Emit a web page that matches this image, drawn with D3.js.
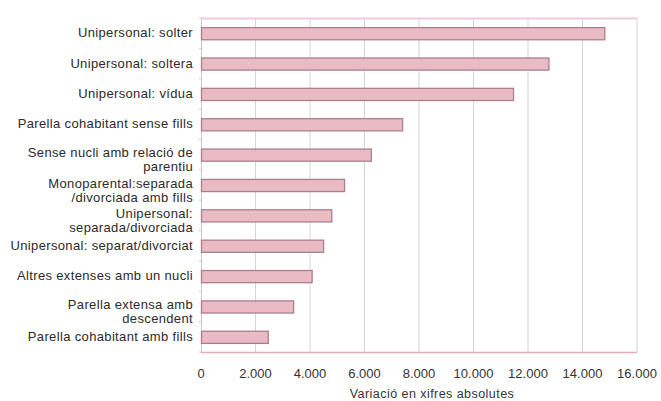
<!DOCTYPE html>
<html><head><meta charset="utf-8">
<script src="https://cdn.jsdelivr.net/npm/d3@7"></script>
<style>body{margin:0;background:#fff}svg{display:block}text{font-family:"Liberation Sans",Arial,sans-serif}</style>
</head><body>
<svg id="c" width="661" height="401"></svg>
<script>
const categories = [
  ["Unipersonal: solter"],
  ["Unipersonal: soltera"],
  ["Unipersonal: vídua"],
  ["Parella cohabitant sense fills"],
  ["Sense nucli amb relació de", "parentiu"],
  ["Monoparental:separada", "/divorciada amb fills"],
  ["Unipersonal:", "separada/divorciada"],
  ["Unipersonal: separat/divorciat"],
  ["Altres extenses amb un nucli"],
  ["Parella extensa amb", "descendent"],
  ["Parella cohabitant amb fills"]
];
const values = [14800, 12750, 11450, 7380, 6230, 5250, 4780, 4480, 4060, 3380, 2450];
const tickValues = [0, 2000, 4000, 6000, 8000, 10000, 12000, 14000, 16000];
const tickLabels = ["0", "2.000", "4.000", "6.000", "8.000", "10.000", "12.000", "14.000", "16.000"];
const axisTitle = "Variació en xifres absolutes";

const svg = d3.select("#c");
const L = 201, R = 637, T = 18, B = 352;
const x = d3.scaleLinear().domain([0, 16000]).range([L, R]);
const y = d3.scaleBand().domain(d3.range(categories.length)).range([T, B]).paddingInner(0.6).paddingOuter(0.3);

// gridlines
svg.append("g").selectAll("line").data(tickValues.slice(1)).join("line")
  .attr("x1", d => x(d)).attr("x2", d => x(d)).attr("y1", T).attr("y2", B)
  .attr("stroke", "#d9d2d4").attr("stroke-width", 1);
// top border
svg.append("line").attr("x1", L).attr("x2", R).attr("y1", T + 0.5).attr("y2", T + 0.5)
  .attr("stroke", "#efcdd5").attr("stroke-width", 2);
// left axis
svg.append("line").attr("x1", L + 0.5).attr("x2", L + 0.5).attr("y1", T).attr("y2", B)
  .attr("stroke", "#cfc8ca");
const bandStep = (B - T) / categories.length;
svg.append("g").selectAll("line").data(d3.range(categories.length + 1)).join("line")
  .attr("x1", L - 2).attr("x2", L + 1).attr("y1", i => T + i * bandStep).attr("y2", i => T + i * bandStep)
  .attr("stroke", "#cfc8ca");

// bars
svg.append("g").selectAll("rect").data(values).join("rect")
  .attr("x", x(0) + 0.5).attr("y", (d, i) => y(i) + 0.5)
  .attr("width", d => x(d) - x(0)).attr("height", y.bandwidth())
  .attr("fill", "#e9bcc5").attr("stroke", "#ad7e8a").attr("stroke-width", 1.3);

// bottom axis line
svg.append("line").attr("x1", L).attr("x2", R).attr("y1", B + 0.5).attr("y2", B + 0.5)
  .attr("stroke", "#e3aab8").attr("stroke-width", 1.5);

// category labels
const lab = svg.append("g");
categories.forEach((lines, i) => {
  const cy = y(i) + y.bandwidth() / 2;
  const t = lab.append("text").attr("text-anchor", "end").attr("font-size", 13)
    .attr("letter-spacing", 0.35).attr("fill", "#2b2b2b");
  lines.forEach((ln, j) => {
    t.append("tspan").attr("x", 193).attr("y", cy + 4 + j * 14 - (lines.length > 1 ? 1.5 : 0)).text(ln);
  });
});

// tick labels
svg.append("g").selectAll("text").data(tickValues).join("text")
  .attr("x", d => x(d)).attr("y", 378).attr("text-anchor", "middle")
  .attr("font-size", 13).attr("fill", "#333")
  .text((d, i) => tickLabels[i]);

svg.append("text").attr("x", (L + R) / 2 + 13).attr("y", 398).attr("text-anchor", "middle")
  .attr("font-size", 12.5).attr("letter-spacing", 0.45).attr("fill", "#333").text(axisTitle);
</script>
</body></html>
